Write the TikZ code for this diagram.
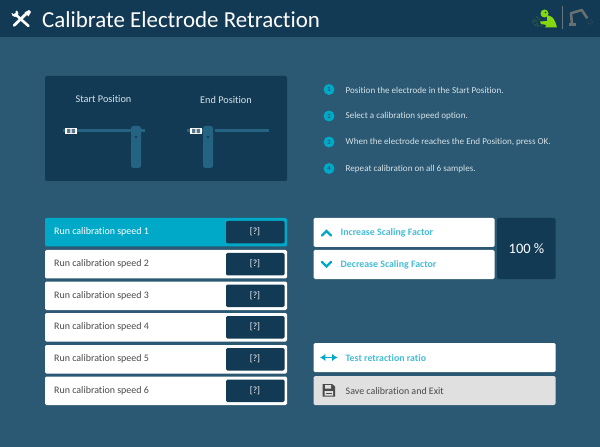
\documentclass[tikz,border=0pt]{standalone}
\usepackage{fontspec}
\usetikzlibrary{arrows.meta}
\setmainfont[Ligatures=NoCommon]{Carlito}
\definecolor{bgc}{HTML}{2B5872}
\definecolor{dark}{HTML}{133A54}
\definecolor{track}{HTML}{246482}
\definecolor{cyan1}{HTML}{00A9C7}
\definecolor{cyant}{HTML}{45BDD5}
\definecolor{gray1}{HTML}{E0E0E0}
\definecolor{txt}{HTML}{4A4A4A}
\definecolor{lime}{HTML}{84D80F}
\definecolor{robot}{HTML}{68706F}
\definecolor{lighttxt}{HTML}{D5E2E8}
\tikzset{
  lbl/.style={anchor=west, inner sep=0, font=\fontsize{10}{12}\selectfont, text=txt},
  lblc/.style={anchor=west, inner sep=0, font=\fontsize{9.9}{12}\selectfont\bfseries, text=cyant},
  inst/.style={anchor=west, inner sep=0, font=\fontsize{9.1}{11}\selectfont, text=lighttxt},
  captxt/.style={anchor=center, inner sep=0, font=\fontsize{10.3}{12}\selectfont, text=lighttxt},
  numdot/.style={circle, fill=cyan1, minimum size=11, inner sep=0, font=\fontsize{6.5}{7}\selectfont\bfseries, text=bgc},
  chip/.style={fill=white, draw=none, inner sep=0, minimum width=12.5, minimum height=6.5},
  slider/.style={fill=track, rounded corners=2.5},
  icon/.style={cyan1, line width=2.4, line cap=round, line join=miter},
}
\begin{document}
\begin{tikzpicture}[x=1bp,y=-1bp]
\useasboundingbox (0,0) rectangle (600,447);
\fill[bgc] (0,0) rectangle (600,447);
% header
\fill[dark] (0,0) rectangle (600,37);
\node[anchor=west,inner sep=0,text=white,font=\fontsize{23}{26}\selectfont] (title) at (42,19.5) {Calibrate Electrode Retraction};
% tools icon
\draw[white,line width=2.6,line cap=round] (15,14) -- (28.5,26);
\draw[white,line width=2.8,line cap=round] (26,14) -- (14,25.5);
\fill[white] (15,13.5) circle[radius=3.4];
\fill[dark] (12,9) -- (16,9) -- (15.5,13) -- (13.5,14) -- (11,12) -- cycle;
\fill[white] (24.5,12.5) -- (29,10) -- (31,12) -- (28.5,16.5) -- cycle;
% status icons
\fill[lime] (544.5,13.5) circle[radius=4];
\fill[lime] (547,15) -- (552,17) .. controls (555,20) and (556,24) .. (557,27.5) -- (545,27.5) -- (546.5,25) -- (541,24) -- (540,21.5) -- (547,21) -- cycle;
\fill[dark] (545.5,12.5) circle[radius=.8];
\foreach \a/\b in {533/22,535/25,537/24,534/20,538/26,536/21,539/19,541/26,537/17}{\fill[lime!60!dark] (\a,\b) circle[radius=.55];}
\draw[gray!70!bgc,line width=1] (562.5,6) -- (562.5,29);
\draw[robot,line width=2.6,line join=round] (572,25) -- (571,13.3) -- (581.7,10) -- (587.3,18.3);
\fill[robot] (568.5,23.5) rectangle (576,26.5);
\foreach \a/\b in {590/24,592/22,588/23,591/20}{\fill[robot] (\a,\b) circle[radius=.5];}
% diagram panel
\fill[dark,rounded corners=2] (45,76) rectangle (287,181);
\node[captxt] (startcap) at (103.5,99.5) {Start Position};
\node[captxt] (endcap) at (226,99.5) {End Position};
\draw[track,line width=2.4] (63,130.5) -- (144.5,130.5);
\fill[slider] (131,126) rectangle (141,168);
\fill[dark] (136,137) circle[radius=1.4];
\node[chip] (chipa) at (71,131) {};
\fill[dark!70] (67,128.8) rectangle (70.4,133.2) (71.6,128.8) rectangle (75,133.2);
\draw[track,line width=2.4] (187,130.5) -- (269,130.5);
\fill[dark] (213,128) rectangle (215,133);
\fill[slider] (203,126) rectangle (213,168);
\fill[dark] (208,137) circle[radius=1.4];
\node[chip] (chipb) at (196,131) {};
\fill[dark!70] (192,128.8) rectangle (195.4,133.2) (196.6,128.8) rectangle (200,133.2);
% instructions
\foreach \n/\y/\t in {1/89.5/Position the electrode in the Start Position.,
  2/116/Select a calibration speed option.,
  3/142/{When the electrode reaches the End Position, press OK.},
  4/168.5/Repeat calibration on all 6 samples.}{
  \node[numdot] (dot\n) at (329,\y) {\n};
  \node[inst] (inst\n) at (345.5,\y+0.5) {\t};
}
% speed rows
\foreach \n/\y in {1/218,2/250,3/281.5,4/313,5/345,6/376.5}{
  \ifnum\n=1
    \fill[cyan1,rounded corners=1.5] (45,\y) rectangle (287,\y+28.5);
    \node[lbl,text=white] (run\n) at (54,\y+14.2) {Run calibration speed \n};
  \else
    \fill[white,rounded corners=1.5] (45,\y) rectangle (287,\y+28.5);
    \node[lbl] (run\n) at (54,\y+14.2) {Run calibration speed \n};
  \fi
  \fill[dark,rounded corners=1.5] (226,\y+3) rectangle (284.5,\y+25.5);
  \node[anchor=center,inner sep=0,text=white,font=\fontsize{9.5}{11}\selectfont] (val\n) at (255,\y+14) {[?]};
}
% scaling buttons
\fill[white,rounded corners=1.5] (313.5,218) rectangle (494.5,247);
\fill[white,rounded corners=1.5] (313.5,250) rectangle (494.5,279);
\fill[dark,rounded corners=1.5] (497,218) rectangle (555.5,279);
\draw[icon] (322,235.5) -- (326.5,231) -- (331,235.5);
\draw[icon] (322,262) -- (326.5,266.5) -- (331,262);
\node[lblc] (inc) at (340.5,232.5) {Increase Scaling Factor};
\node[lblc] (dec) at (340.5,264.5) {Decrease Scaling Factor};
\node[anchor=center,inner sep=0,text=white,font=\fontsize{14.5}{16}\selectfont] (pct) at (526.5,248.5) {100 \%};
% bottom buttons
\fill[white,rounded corners=1.5] (313.5,343) rectangle (555.5,372);
\fill[gray1,rounded corners=1.5] (313.5,376) rectangle (555.5,405);
\draw[cyan1,line width=2,{Latex[length=5.5,width=7.5]}-{Latex[length=5.5,width=7.5]}] (320,357.5) -- (337.5,357.5);
\node[lblc] (testl) at (345.5,358) {Test retraction ratio};
\fill[txt] (322.5,384) -- (332,384) -- (335,386.5) -- (335,396.5) -- (322.5,396.5) -- cycle;
\fill[gray1] (325,385) rectangle (331,388.5) (324.5,391) rectangle (333,395.5);
\fill[txt] (325.5,392.5) rectangle (332,393.2);
\node[lbl] (savel) at (345.5,391) {Save calibration and Exit};
\end{tikzpicture}
\end{document}
